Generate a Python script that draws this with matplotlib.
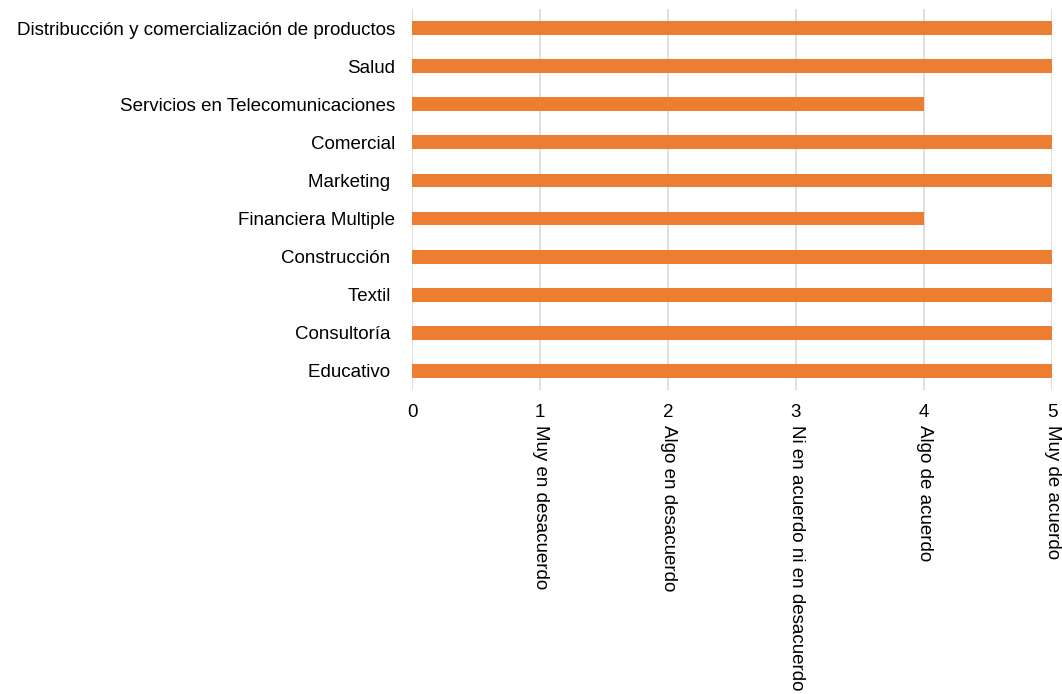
import matplotlib.pyplot as plt
import matplotlib.transforms as mtransforms

plt.rcParams["font.family"] = ["Liberation Sans", "DejaVu Sans"]

categories = [
    "Distribucción y comercialización de productos",
    "Salud",
    "Servicios en Telecomunicaciones",
    "Comercial",
    "Marketing ",
    "Financiera Multiple",
    "Construcción ",
    "Textil ",
    "Consultoría ",
    "Educativo ",
]
values = [5, 5, 4, 5, 5, 4, 5, 5, 5, 5]
scale_ticks = [0, 1, 2, 3, 4, 5]
scale_labels = [
    "",
    "Muy en desacuerdo",
    "Algo en desacuerdo",
    "Ni en acuerdo ni en desacuerdo",
    "Algo de acuerdo",
    "Muy de acuerdo",
]

bar_color = "#ED7D31"
grid_color = "#D9D9D9"
fs = 13.5

fig = plt.figure(figsize=(10.62, 6.94), dpi=100)
ax = fig.add_axes([412 / 1062, 1 - 390 / 694, 640 / 1062, 381 / 694])

positions = list(range(len(categories)))[::-1]
ax.barh(positions, values, height=0.36, color=bar_color, zorder=3)

ax.set_xlim(0, 5)
ax.set_ylim(-0.5, len(categories) - 0.5)
ax.set_yticks(positions)
ax.set_yticklabels(categories, fontsize=fs)
ax.set_xticks(scale_ticks)
ax.set_xticklabels([str(t) for t in scale_ticks], fontsize=fs)
ax.tick_params(axis="both", length=0)
ax.tick_params(axis="y", pad=12)
ax.tick_params(axis="x", pad=10)

ax.grid(axis="x", color=grid_color, linewidth=1.2, zorder=0)
for spine in ax.spines.values():
    spine.set_visible(False)

# descriptive scale labels hanging below the numeric ticks
trans = mtransforms.blended_transform_factory(ax.transData, ax.transAxes)
for x, label in zip(scale_ticks, scale_labels):
    if label:
        ax.text(x, -0.092, label, transform=trans, rotation=-90,
                ha="center", va="top", fontsize=fs)

fig.savefig("out.png", dpi=100)
